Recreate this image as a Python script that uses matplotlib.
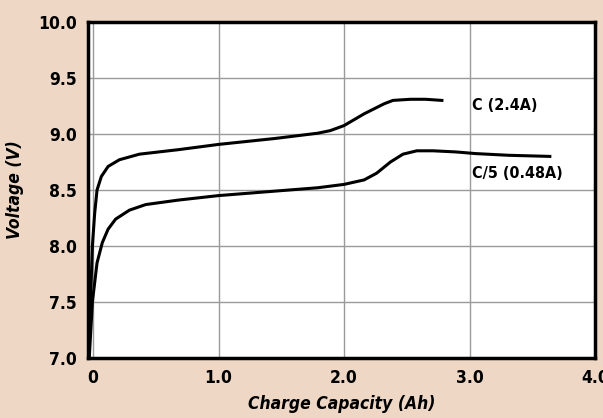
import matplotlib
matplotlib.use('Agg')
import matplotlib.pyplot as plt

# charge curves (capacity in Ah, voltage in V)
c_cap = [-0.04, -0.02, -0.005, 0.013, 0.032, 0.066, 0.12, 0.21, 0.37, 0.68, 1.0,
         1.45, 1.79, 1.89, 2.0, 2.16, 2.32, 2.39, 2.53, 2.65, 2.78]
c_volt = [7.0, 7.5, 8.0, 8.29, 8.5, 8.62, 8.71, 8.77, 8.82, 8.86, 8.907,
          8.96, 9.007, 9.03, 9.075, 9.18, 9.27, 9.30, 9.31, 9.31, 9.30]

c5_cap = [-0.03, -0.005, 0.032, 0.074, 0.12, 0.18, 0.29, 0.42, 0.68, 1.0, 1.45,
          1.79, 2.0, 2.16, 2.26, 2.37, 2.47, 2.58, 2.71, 2.89, 3.05, 3.31, 3.64]
c5_volt = [7.0, 7.5, 7.85, 8.03, 8.15, 8.24, 8.32, 8.37, 8.41, 8.45, 8.49,
           8.52, 8.55, 8.59, 8.65, 8.75, 8.82, 8.85, 8.85, 8.84, 8.825, 8.81, 8.80]

x_ticks = [0, 1, 2, 3, 4]
x_labels = ['0', '1.0', '2.0', '3.0', '4.0']
y_ticks = [7.0, 7.5, 8.0, 8.5, 9.0, 9.5, 10.0]

FONT = 'DejaVu Sans'
STRETCH = 'condensed'
bg = '#eed8c5'

fig = plt.figure(figsize=(6.03, 4.18), dpi=100, facecolor=bg)
ax = fig.add_axes([88 / 603, 1 - 358 / 418, 507 / 603, 336 / 418])
ax.set_facecolor('white')

ax.plot(c_cap, c_volt, color='black', lw=2.2, solid_joinstyle='round')
ax.plot(c5_cap, c5_volt, color='black', lw=2.2, solid_joinstyle='round')

ax.set_xlim(-0.04, 3.96)
ax.set_ylim(7.0, 10.0)
ax.set_xticks(x_ticks)
ax.set_xticklabels(x_labels)
ax.set_yticks(y_ticks)
ax.set_yticklabels([f'{v:.1f}' for v in y_ticks])
ax.grid(True, color='#9a9a9a', lw=1.0)
ax.set_axisbelow(True)
ax.tick_params(length=0, pad=8)
for lab in ax.get_xticklabels() + ax.get_yticklabels():
    lab.set_family(FONT)
    lab.set_stretch(STRETCH)
    lab.set_fontweight('bold')
    lab.set_fontsize(12.5)
for s in ax.spines.values():
    s.set_linewidth(2.5)

ax.text(3.02, 9.25, 'C (2.4A)', family=FONT, stretch=STRETCH, fontweight='bold',
        fontsize=11.5, va='center', ha='left')
ax.text(3.02, 8.65, 'C/5 (0.48A)', family=FONT, stretch=STRETCH, fontweight='bold',
        fontsize=11.5, va='center', ha='left')

ax.set_xlabel('Charge Capacity (Ah)', family=FONT, stretch=STRETCH, fontweight='bold',
              style='italic', fontsize=12.5, labelpad=6)
ax.set_ylabel('Voltage (V)', family=FONT, stretch=STRETCH, fontweight='bold',
              style='italic', fontsize=12.5, labelpad=10)

fig.savefig('out.png', dpi=100, facecolor=bg)
